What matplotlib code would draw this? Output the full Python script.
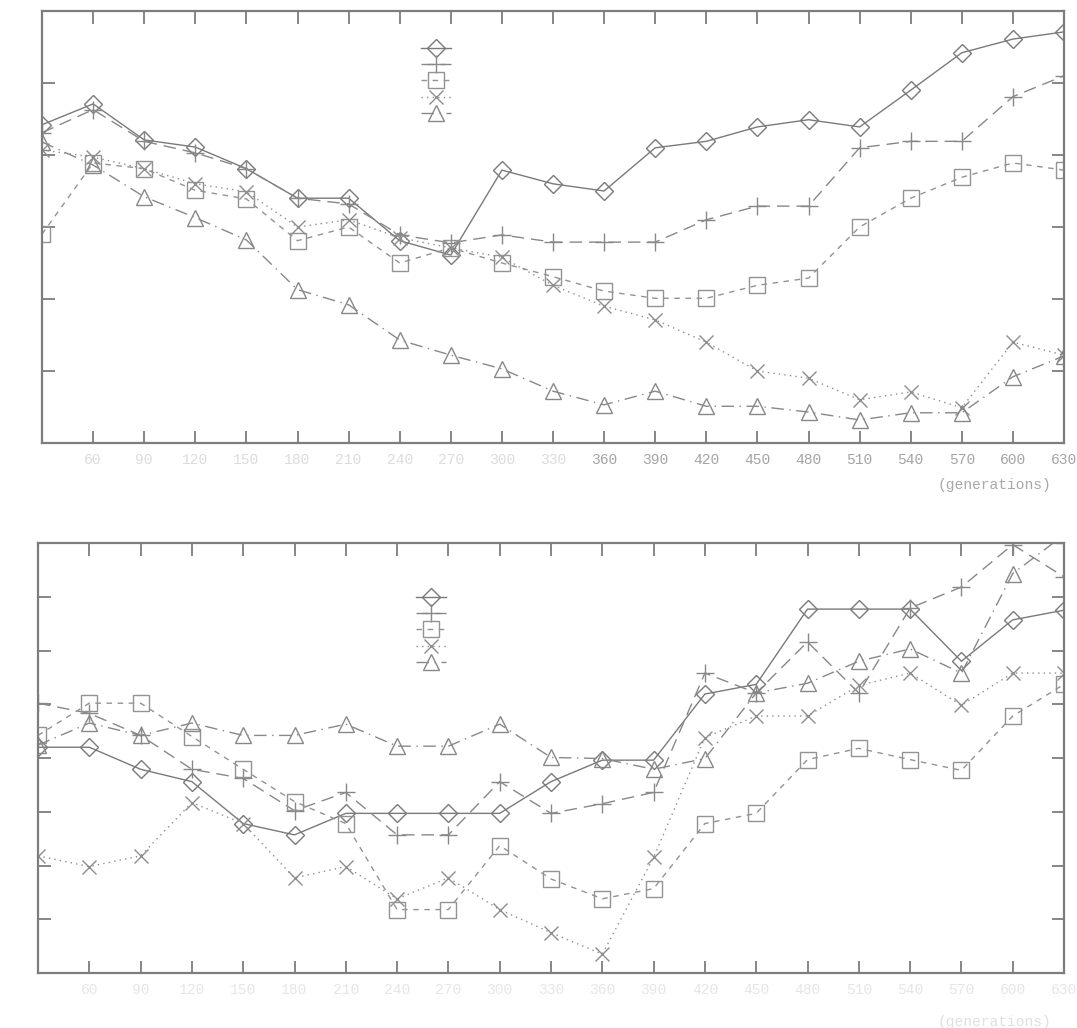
import matplotlib.pyplot as plt

# generations sampled every 30 steps
generations = list(range(30, 631, 30))
tick_gens = list(range(60, 631, 30))
tick_labels = [str(g) for g in tick_gens]

# upper panel (5 runs)
top_diamond = [4.42, 4.71, 4.21, 4.11, 3.81, 3.40, 3.40, 2.81, 2.61, 3.79, 3.60,
               3.50, 4.10, 4.19, 4.39, 4.49, 4.39, 4.90, 5.42, 5.61, 5.71]
top_plus = [4.31, 4.63, 4.19, 4.03, 3.81, 3.40, 3.32, 2.89, 2.78, 2.89, 2.79,
            2.79, 2.79, 3.10, 3.29, 3.29, 4.10, 4.19, 4.19, 4.81, 5.10]
top_square = [2.90, 3.89, 3.81, 3.51, 3.39, 2.81, 3.00, 2.50, 2.71, 2.50, 2.31,
              2.11, 2.01, 2.01, 2.19, 2.29, 3.00, 3.40, 3.69, 3.89, 3.79]
top_cross = [4.07, 3.97, 3.81, 3.60, 3.49, 3.00, 3.10, 2.85, 2.71, 2.58, 2.19,
             1.90, 1.71, 1.40, 1.00, 0.90, 0.60, 0.71, 0.49, 1.40, 1.22]
top_triangle = [4.18, 3.86, 3.42, 3.13, 2.82, 2.13, 1.92, 1.43, 1.22, 1.03, 0.72,
                0.53, 0.72, 0.51, 0.51, 0.43, 0.32, 0.42, 0.42, 0.92, 1.21]

# lower panel (5 runs)
bot_diamond = [4.20, 4.20, 3.79, 3.56, 2.78, 2.57, 2.97, 2.97, 2.97, 2.97, 3.56,
               3.96, 3.96, 5.19, 5.37, 6.77, 6.77, 6.77, 5.80, 6.57, 6.75]
bot_plus = [5.02, 4.83, 4.42, 3.79, 3.62, 3.02, 3.36, 2.57, 2.57, 3.56, 2.97,
            3.15, 3.36, 5.58, 5.21, 6.16, 5.21, 6.79, 7.18, 7.97, 7.37]
bot_square = [4.42, 5.02, 5.02, 4.40, 3.79, 3.19, 2.78, 1.18, 1.18, 2.37, 1.75,
              1.38, 1.57, 2.78, 2.97, 3.97, 4.18, 3.97, 3.77, 4.78, 5.37]
bot_cross = [2.18, 1.98, 2.18, 3.17, 2.78, 1.77, 1.98, 1.38, 1.77, 1.18, 0.75,
             0.35, 2.15, 4.38, 4.78, 4.78, 5.35, 5.58, 4.98, 5.58, 5.58]
bot_triangle = [4.24, 4.65, 4.42, 4.65, 4.42, 4.42, 4.63, 4.22, 4.22, 4.63, 4.01,
                3.99, 3.79, 3.99, 5.21, 5.39, 5.80, 6.03, 5.58, 7.43, 8.15]

styles = [
    dict(marker='D', ls='-', ms=9.5, color='#7a7a7a'),
    dict(marker='+', ls=(0, (9, 5)), ms=13, color='#888888'),
    dict(marker='s', ls=(0, (4, 4)), ms=11, color='#939393'),
    dict(marker='x', ls=(0, (1, 3)), ms=10.5, color='#8e8e8e'),
    dict(marker='^', ls=(0, (9, 4, 1, 4)), ms=11.5, color='#888888'),
]

frame_col = '#7d7d7d'
mono = 'Liberation Mono'


def draw_panel(ax, series, ymax, label_cols, xlabel_col, legend_anchor, label_y):
    handles = []
    for vals, st in zip(series, styles):
        ln, = ax.plot(generations, vals, linestyle=st['ls'], marker=st['marker'],
                      ms=st['ms'], color=st['color'], lw=1.0, mew=1.0,
                      fillstyle='none', clip_on=True)
        handles.append(ln)
    ax.set_xlim(30, 630)
    ax.set_ylim(0, ymax)
    ax.set_xticks(tick_gens, tick_labels)
    ax.set_yticks(range(1, ymax))
    ax.set_yticklabels([])
    ax.tick_params(direction='in', length=9, width=1.3, color=frame_col,
                   top=True, right=True, pad=7, labelsize=10.5)
    for lab, c in zip(ax.get_xticklabels(), label_cols):
        lab.set_color(c)
        lab.set_fontfamily(mono)
    for sp in ax.spines.values():
        sp.set_color(frame_col)
        sp.set_linewidth(1.6)
    ax.set_xlabel('(generations)', fontsize=10.5, family=mono, color=xlabel_col)
    ax.xaxis.set_label_coords(0.932, label_y)
    ax.legend(handles, [' '] * 5, loc='upper left', bbox_to_anchor=legend_anchor,
              frameon=False, fontsize=8, handlelength=2.7, handletextpad=0,
              borderpad=0, borderaxespad=0, labelspacing=0.56)


fig = plt.figure(figsize=(10.77, 10.28), dpi=100)
ax_top = fig.add_axes([42 / 1077, 1 - 443 / 1028, 1022 / 1077, 432 / 1028])
ax_bot = fig.add_axes([38 / 1077, 1 - 973 / 1028, 1026 / 1077, 430 / 1028])

top_cols = ['#dcdcdc'] * 10 + ['#a4a4a4'] * 10
draw_panel(ax_top, [top_diamond, top_plus, top_square, top_cross, top_triangle],
           6, top_cols, '#a8a8a8', (0.371, 0.924), -0.081)

bot_cols = ['#e6e6e6'] * 20
draw_panel(ax_bot, [bot_diamond, bot_plus, bot_square, bot_cross, bot_triangle],
           8, bot_cols, '#e0e0e0', (0.368, 0.884), -0.098)

fig.savefig('out.png', dpi=100, facecolor='white')
